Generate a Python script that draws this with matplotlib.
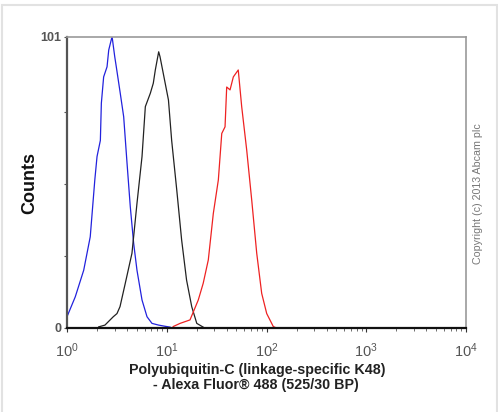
import matplotlib
matplotlib.use("Agg")
import matplotlib.pyplot as plt
from matplotlib.patches import Rectangle
from matplotlib.ticker import FixedLocator, LogLocator, NullFormatter

plt.rcParams['font.family'] = ['Liberation Sans', 'DejaVu Sans']
plt.rcParams['mathtext.fontset'] = 'custom'
plt.rcParams['mathtext.rm'] = 'Liberation Sans'
plt.rcParams['mathtext.it'] = 'Liberation Sans'

# histogram traces (fluorescence, counts)
blue_x = [1.00, 1.21, 1.47, 1.71, 1.90, 2.00, 2.16, 2.21, 2.33, 2.52, 2.62, 2.83,
          3.01, 3.12, 3.42, 3.70, 4.00, 4.31, 4.66, 5.03, 5.65, 6.34, 7.11, 8.30,
          9.6, 10.8]
blue_y = [3.9, 10.8, 20, 31.6, 51.3, 59.4, 65, 77.9, 87, 90.5, 96.3, 101,
          94, 90.5, 81.3, 73.2, 57, 42, 29.3, 20, 9.7, 3.9, 1.6, 1.0,
          0.6, 0.3]

black_x = [2.08, 2.40, 2.91, 3.17, 3.40, 3.84, 4.48, 5.03, 5.65, 6.10, 6.84, 7.33,
           7.68, 8.30, 8.56, 9.23, 10.4, 11.2, 12.6, 14.1, 15.8, 17.8, 20.0, 23.2]
black_y = [0.4, 1.0, 3.9, 5.0, 7.4, 15.5, 25.9, 43.2, 59.4, 76.7, 81.3, 84.8,
           89.4, 95.7, 94, 88.2, 79, 65, 47.8, 30.5, 16.6, 7.4, 1.6, 0.3]

red_x = [11.6, 13.6, 17.1, 20.7, 23.2, 26.1, 29.3, 32.9, 35.6, 38.4, 39.9, 43.1,
         46.5, 52.1, 56.4, 63.3, 71.1, 79.8, 89.5, 100.5, 117, 126]
red_y = [0.5, 1.6, 2.8, 9.7, 15.5, 23.6, 39.7, 51.3, 67.4, 69.7, 83.5, 82.5,
         87, 89.4, 76.7, 61.7, 44.3, 25.9, 12, 5, 0.5, 0]

y_ticks = [0, 25, 50, 75, 101]
y_labels = ['0', '', '', '', '101']
x_ticks = [1, 10, 100, 1000, 10000]
x_labels = ['$10^0$', '$10^1$', '$10^2$', '$10^3$', '$10^4$']

fig = plt.figure(figsize=(4.98, 4.12), dpi=100)
ax = fig.add_axes([67 / 498, 84 / 412, 399 / 498, 291.5 / 412])

ax.plot(blue_x, blue_y, color='#2222dd', lw=0.9)
ax.plot(black_x, black_y, color='#222222', lw=0.9)
ax.plot(red_x, red_y, color='#ee2222', lw=0.9)

ax.set_xscale('log')
ax.set_xlim(1, 10000)
ax.set_ylim(0, 101)

ax.xaxis.set_major_locator(FixedLocator(x_ticks))
ax.set_xticklabels(x_labels)
ax.xaxis.set_minor_locator(LogLocator(base=10, subs=range(2, 10)))
ax.xaxis.set_minor_formatter(NullFormatter())
ax.yaxis.set_major_locator(FixedLocator(y_ticks))
ax.set_yticklabels(y_labels)

ax.tick_params(axis='x', which='major', length=3, width=0.8, color='#333333',
               labelsize=10.5, labelcolor='#555555', pad=7)
ax.tick_params(axis='x', which='minor', length=2, width=0.6, color='#555555')
ax.tick_params(axis='y', length=2, width=0.8, color='#555555',
               labelsize=9, labelcolor='#555555', pad=2)
for lab in ax.get_yticklabels():
    lab.set_fontweight('bold')

ax.spines['bottom'].set_color('#111111')
ax.spines['bottom'].set_linewidth(1.6)
ax.spines['left'].set_color('#555555')
ax.spines['left'].set_linewidth(1.6)
ax.spines['top'].set_color('#999999')
ax.spines['top'].set_linewidth(1.2)
ax.spines['right'].set_color('#999999')
ax.spines['right'].set_linewidth(1.2)

fig.text(30 / 498, 1 - 183 / 412, 'Counts', rotation=90, ha='center', va='center',
         fontsize=13, fontweight='bold', color='#111111')
fig.text(257 / 498, 1 - 370 / 412, 'Polyubiquitin-C (linkage-specific K48)',
         ha='center', va='center', fontsize=10.3, fontweight='bold', color='#222222')
fig.text(256 / 498, 1 - 385 / 412, '- Alexa Fluor\u00ae 488 (525/30 BP)',
         ha='center', va='center', fontsize=10.3, fontweight='bold', color='#222222')
fig.text(478 / 498, 1 - 194 / 412, 'Copyright (c) 2013 Abcam plc', rotation=90,
         ha='center', va='center', fontsize=7.7, color='#777777')

fig.patches.append(Rectangle((2 / 498, -0.01), 495 / 498, 1 - 5 / 412 + 0.01,
                             transform=fig.transFigure, fill=False,
                             edgecolor='#e2e2e2', lw=1.5))

fig.savefig('out.png', dpi=100)
